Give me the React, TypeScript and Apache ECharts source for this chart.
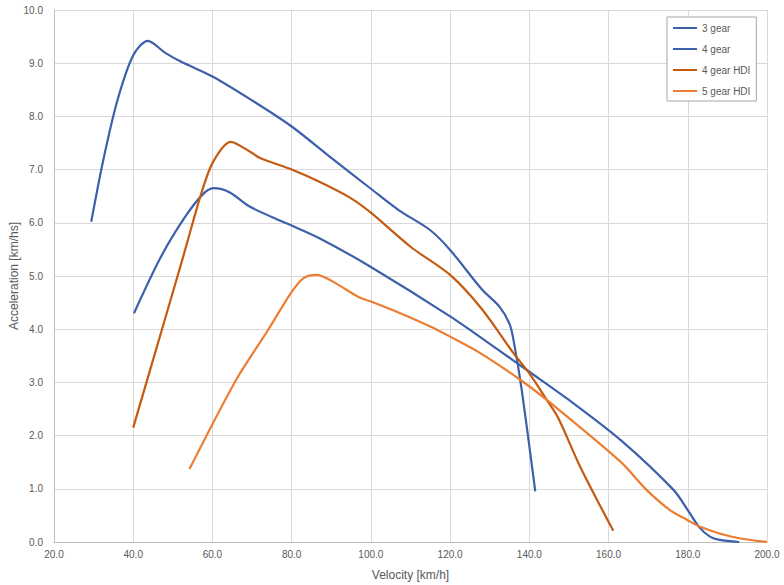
import React, { useEffect, useRef } from "react";
import * as echarts from "echarts";

const seriesNames = ["3 gear", "4 gear", "4 gear HDI", "5 gear HDI"];
const seriesColors = ["#3d60aa", "#3d60aa", "#c55a11", "#ed7d31"];

const gear3: [number, number][] = [
  [29.4, 6.02], [32.5, 7.2], [36, 8.3], [40, 9.15], [43.7, 9.42], [48, 9.2],
  [52, 9.03], [60, 8.75], [70, 8.3], [80, 7.81], [90, 7.22], [100, 6.64],
  [107, 6.24], [115, 5.86], [120, 5.49], [128, 4.75], [132.5, 4.42],
  [135, 4.1], [136, 3.8], [138, 2.9], [141.5, 0.95],
];

const gear4: [number, number][] = [
  [40.2, 4.3], [47, 5.36], [53, 6.1], [57.5, 6.53], [60.3, 6.65],
  [64.4, 6.57], [69.5, 6.3], [79, 5.98], [87, 5.71], [100, 5.17], [120, 4.24],
  [132, 3.62], [140, 3.2], [150, 2.67], [163, 1.92],
  [176.4, 0.98], [180, 0.6], [183, 0.27], [185.6, 0.1], [188, 0.04], [193, 0.0],
];

const gear4Hdi: [number, number][] = [
  [40, 2.15], [47.2, 3.98], [52.6, 5.36], [57.3, 6.58], [60.2, 7.15],
  [64.6, 7.52], [69, 7.36], [72, 7.22], [80, 7.0],
  [87, 6.77], [95, 6.46], [100, 6.19], [110, 5.55], [120, 5.02],
  [128, 4.38], [136, 3.55], [140, 3.17], [144.4, 2.67], [147.3, 2.33],
  [152.8, 1.42], [161.2, 0.21],
];

const gear5Hdi: [number, number][] = [
  [54.2, 1.37], [66, 3.05], [74, 3.98], [80, 4.7], [83, 4.96], [86.3, 5.02],
  [90.5, 4.89], [97, 4.6], [100, 4.52], [107.4, 4.3], [115, 4.05],
  [120, 3.86], [127.6, 3.55], [137.7, 3.05], [144.4, 2.67], [163, 1.51],
  [169.6, 0.98], [175.5, 0.6], [180, 0.41], [183, 0.29], [188, 0.16],
  [193, 0.07], [200, 0.0],
];

const allData = [gear3, gear4, gear4Hdi, gear5Hdi];

const xMin = 20, xMax = 200, xStep = 20;
const yMin = 0, yMax = 10, yStep = 1;

const FONT = "'Liberation Sans', Arial, sans-serif";
const TEXT = "#595959";

export default function App() {
  const ref = useRef<HTMLDivElement>(null);
  useEffect(() => {
    if (!ref.current) return;
    const chart = echarts.init(ref.current, undefined, { renderer: "svg" });
    chart.setOption({
      animation: false,
      backgroundColor: "#ffffff",
      textStyle: { fontFamily: FONT },
      grid: {
        left: 54, right: 17, top: 10, bottom: 43,
        containLabel: false,
        outerBoundsMode: "none",
      },
      legend: {
        orient: "vertical",
        left: 667,
        top: 17,
        data: seriesNames,
        icon: "rect",
        itemWidth: 24,
        itemHeight: 2,
        itemGap: 9,
        padding: [5, 6, 4, 6],
        borderColor: "#a6a6a6",
        borderWidth: 1,
        backgroundColor: "#ffffff",
        textStyle: { fontFamily: FONT, fontSize: 10, color: TEXT, lineHeight: 12 },
      },
      xAxis: {
        type: "value",
        min: xMin,
        max: xMax,
        interval: xStep,
        name: "Velocity [km/h]",
        nameLocation: "middle",
        nameGap: 27,
        nameMoveOverlap: false,
        nameTextStyle: { fontFamily: FONT, fontSize: 12, color: TEXT },
        axisLine: { show: true, lineStyle: { color: "#bfbfbf", width: 1 } },
        axisTick: { show: false },
        axisLabel: {
          fontFamily: FONT,
          fontSize: 10,
          color: TEXT,
          margin: 7,
          formatter: (v: number) => v.toFixed(1),
        },
        splitLine: { show: true, lineStyle: { color: "#d9d9d9", width: 1 } },
      },
      yAxis: {
        type: "value",
        min: yMin,
        max: yMax,
        interval: yStep,
        name: "Acceleration [km/hs]",
        nameLocation: "middle",
        nameGap: 34,
        nameMoveOverlap: false,
        nameTextStyle: { fontFamily: FONT, fontSize: 12, color: TEXT },
        axisLine: { show: true, lineStyle: { color: "#bfbfbf", width: 1 } },
        axisTick: { show: false },
        axisLabel: {
          fontFamily: FONT,
          fontSize: 10,
          color: TEXT,
          margin: 11,
          formatter: (v: number) => v.toFixed(1),
        },
        splitLine: { show: true, lineStyle: { color: "#d9d9d9", width: 1 } },
      },
      series: seriesNames.map((name, i) => ({
        name,
        type: "line",
        data: allData[i],
        smooth: 0.3,
        symbol: "none",
        color: seriesColors[i],
        lineStyle: { width: 2.2, color: seriesColors[i] },
      })),
    });
    return () => chart.dispose();
  }, []);
  return (
    <div
      ref={ref}
      style={{ position: "fixed", left: 0, top: 0, width: 784, height: 585 }}
    />
  );
}
